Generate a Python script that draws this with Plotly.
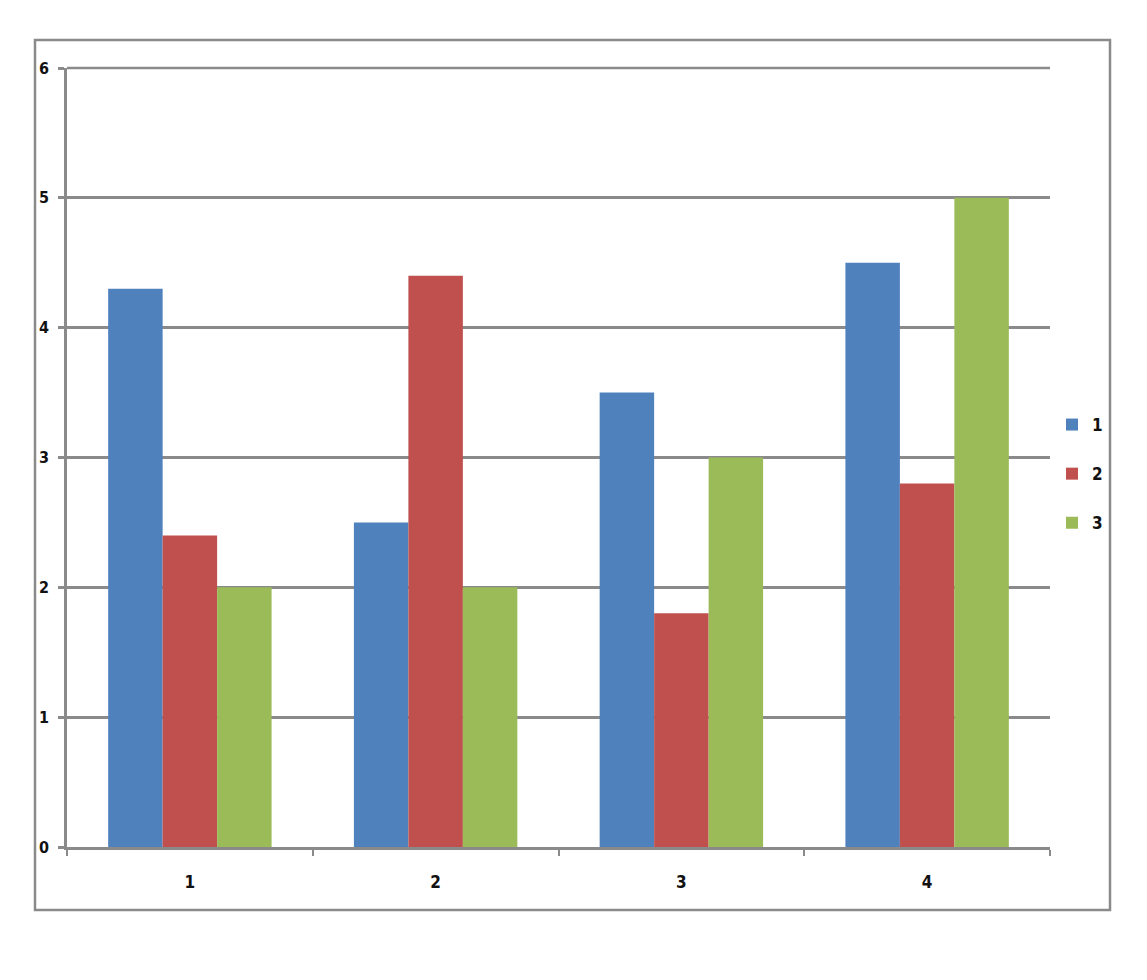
import plotly.graph_objects as go

categories = ["1", "2", "3", "4"]
series_names = ["1", "2", "3"]
series_1 = [4.3, 2.5, 3.5, 4.5]
series_2 = [2.4, 4.4, 1.8, 2.8]
series_3 = [2.0, 2.0, 3.0, 5.0]
y_ticks = [0, 1, 2, 3, 4, 5, 6]

colors = ["#4F81BD", "#C0504D", "#9BBB59"]
font_family = "DejaVu Sans Condensed, Liberation Sans Narrow, sans-serif"
grid_col = "#8a8a8a"

fig = go.Figure()
for i, (name, vals) in enumerate(zip(series_names, [series_1, series_2, series_3])):
    fig.add_trace(go.Bar(x=categories, y=vals, name=name,
                         marker=dict(color=colors[i], line=dict(width=0)),
                         legendgroup=name))

# page has an 8px body margin, so figure coords = page coords - 8
OFF = 8
W, H = 1147 - OFF, 980 - OFF
left, right, top, bottom = 67 - OFF, 1050 - OFF, 68 - OFF, 847 - OFF
ml, mr, mt, mb = left, W - right, top, H - bottom
pw, ph = right - left, bottom - top

def px_x(v):
    return (v - OFF - left) / pw

def px_y(v):
    return (bottom - (v - OFF)) / ph

fig.update_layout(
    width=W, height=H,
    margin=dict(l=ml, r=mr, t=mt, b=mb),
    paper_bgcolor="white", plot_bgcolor="white",
    barmode="group", bargap=0.335, bargroupgap=0,
    font=dict(family=font_family, size=16, color="#111111", weight="bold"),
    legend=dict(x=px_x(1052), y=px_y(474), xanchor="left", yanchor="middle",
                font=dict(size=17, weight="bold"), tracegroupgap=24, itemwidth=30,
                bgcolor="rgba(0,0,0,0)"),
    shapes=[
        dict(type="rect", xref="paper", yref="paper",
             x0=px_x(35), x1=px_x(1110), y0=px_y(910), y1=px_y(40),
             line=dict(color=grid_col, width=2.5), fillcolor="rgba(0,0,0,0)",
             layer="below"),
        # top gridline at 6 (the top of the range, so plotly drops it)
        dict(type="line", xref="paper", yref="paper", x0=0, x1=1, y0=1, y1=1,
             line=dict(color=grid_col, width=2.5), layer="below"),
    ],
)
fig.update_yaxes(range=[0, 6], tickvals=y_ticks, showgrid=True,
                 gridcolor=grid_col, gridwidth=2.5,
                 showline=True, linecolor=grid_col, linewidth=2.5,
                 ticks="outside", ticklen=6, tickcolor=grid_col, tickwidth=2.5,
                 ticklabelstandoff=6, zeroline=False,
                 tickfont=dict(size=16, weight="bold"))
fig.update_xaxes(showgrid=False, showline=True, linecolor=grid_col, linewidth=2.5,
                 ticks="outside", ticklen=6, tickcolor=grid_col, tickwidth=1.5,
                 tickson="boundaries", ticklabelstandoff=18,
                 tickfont=dict(size=17, weight="bold"))

fig.write_html("out.html")
